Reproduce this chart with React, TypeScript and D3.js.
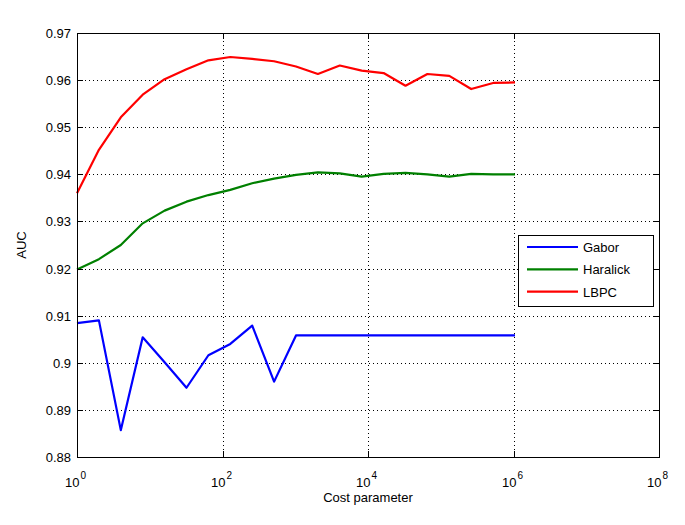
import React, { useEffect, useRef } from "react";
import * as d3 from "d3";

const exponents = d3.range(0, 21); // C = 2^0 .. 2^20
const gabor = [0.9084, 0.909, 0.8857, 0.9054, 0.9001, 0.8947, 0.9016, 0.904, 0.9079, 0.896, 0.9058,
  0.9058, 0.9058, 0.9058, 0.9058, 0.9058, 0.9058, 0.9058, 0.9058, 0.9058, 0.9058];
const haralick = [0.9198, 0.922, 0.925, 0.9296, 0.9323, 0.9342, 0.9356, 0.9367, 0.9381, 0.9391, 0.9399,
  0.9404, 0.9402, 0.9395, 0.9401, 0.9403, 0.94, 0.9395, 0.9401, 0.94, 0.94];
const lbpc = [0.936, 0.9452, 0.9521, 0.9569, 0.9602, 0.9623, 0.9642, 0.9649, 0.9645, 0.964, 0.9629,
  0.9613, 0.9631, 0.962, 0.9615, 0.9588, 0.9613, 0.9609, 0.9581, 0.9594, 0.9595];
const seriesNames = ["Gabor", "Haralick", "LBPC"];
const seriesColors = ["#0000ff", "#008000", "#ff0000"];
const yTicks = [0.88, 0.89, 0.9, 0.91, 0.92, 0.93, 0.94, 0.95, 0.96, 0.97];
const xTickExps = [0, 2, 4, 6, 8];

export default function App() {
  const ref = useRef<SVGSVGElement>(null);
  useEffect(() => {
    const svg = d3.select(ref.current);
    svg.selectAll("*").remove();
    const W = 685, H = 525;
    const m = { left: 77, right: 659, top: 33, bottom: 457 };
    const x = d3.scaleLog().domain([1, 1e8]).range([m.left, m.right]);
    const y = d3.scaleLinear().domain([0.88, 0.97]).range([m.bottom, m.top]);
    const font = "'Liberation Sans', Arial, sans-serif";

    svg.append("rect").attr("width", W).attr("height", H).attr("fill", "#fff");

    const g = svg.append("g");
    // grid
    xTickExps.forEach((e) => {
      const px = Math.round(x(Math.pow(10, e))) + 0.5;
      if (e > 0 && e < 8)
        g.append("line").attr("x1", px).attr("x2", px).attr("y1", m.top).attr("y2", m.bottom)
          .attr("stroke", "#000").attr("stroke-width", 1).attr("stroke-dasharray", "1,3");
    });
    yTicks.forEach((t) => {
      const py = Math.round(y(t)) + 0.5;
      if (t > 0.88 && t < 0.97)
        g.append("line").attr("x1", m.left).attr("x2", m.right).attr("y1", py).attr("y2", py)
          .attr("stroke", "#000").attr("stroke-width", 1).attr("stroke-dasharray", "1,3");
    });

    // lines
    const data = [gabor, haralick, lbpc];
    const line = d3.line<number>()
      .x((_, i) => x(Math.pow(2, exponents[i])))
      .y((d) => y(d));
    data.forEach((s, k) => {
      g.append("path").attr("d", line(s) as string).attr("fill", "none")
        .attr("stroke", seriesColors[k]).attr("stroke-width", 2.2).attr("stroke-linejoin", "round");
    });

    // axes box
    g.append("rect").attr("x", m.left + 0.5).attr("y", m.top + 0.5)
      .attr("width", m.right - m.left).attr("height", m.bottom - m.top)
      .attr("fill", "none").attr("stroke", "#000").attr("stroke-width", 1);

    const tl = 6;
    // y ticks & labels
    yTicks.forEach((t) => {
      const py = Math.round(y(t)) + 0.5;
      g.append("line").attr("x1", m.left).attr("x2", m.left + tl).attr("y1", py).attr("y2", py).attr("stroke", "#000");
      g.append("line").attr("x1", m.right - tl).attr("x2", m.right).attr("y1", py).attr("y2", py).attr("stroke", "#000");
      g.append("text").attr("x", m.left - 6).attr("y", py + 4.5).attr("text-anchor", "end")
        .attr("font-family", font).attr("font-size", 13).attr("fill", "#000")
        .text(d3.format("")(t));
    });
    // x ticks & labels
    xTickExps.forEach((e) => {
      const px = Math.round(x(Math.pow(10, e))) + 0.5;
      g.append("line").attr("x1", px).attr("x2", px).attr("y1", m.bottom - tl).attr("y2", m.bottom).attr("stroke", "#000");
      g.append("line").attr("x1", px).attr("x2", px).attr("y1", m.top).attr("y2", m.top + tl).attr("stroke", "#000");
      const t = g.append("text").attr("x", px - 2).attr("y", 487).attr("text-anchor", "middle")
        .attr("font-family", font).attr("font-size", 13).attr("fill", "#000");
      t.append("tspan").text("10");
      t.append("tspan").attr("font-size", 10).attr("dy", -8).attr("dx", 1).text(String(e));
    });

    g.append("text").attr("x", 368).attr("y", 502).attr("text-anchor", "middle")
      .attr("font-family", font).attr("font-size", 13).attr("fill", "#000").text("Cost parameter");
    g.append("text").attr("transform", "translate(26,245) rotate(-90)").attr("text-anchor", "middle")
      .attr("font-family", font).attr("font-size", 13).attr("fill", "#000").text("AUC");

    // legend
    const lg = g.append("g");
    lg.append("rect").attr("x", 518.5).attr("y", 235.5).attr("width", 135).attr("height", 71)
      .attr("fill", "#fff").attr("stroke", "#000").attr("stroke-width", 1);
    seriesNames.forEach((n, k) => {
      const ly = 247 + k * 22.3;
      lg.append("line").attr("x1", 527).attr("x2", 578).attr("y1", ly).attr("y2", ly)
        .attr("stroke", seriesColors[k]).attr("stroke-width", 2.2);
      lg.append("text").attr("x", 583).attr("y", ly + 5).attr("font-family", font).attr("font-size", 13)
        .attr("fill", "#000").text(n);
    });
  }, []);
  return (
    <svg ref={ref} width={685} height={525} style={{ position: "absolute", left: 0, top: 0 }} />
  );
}
